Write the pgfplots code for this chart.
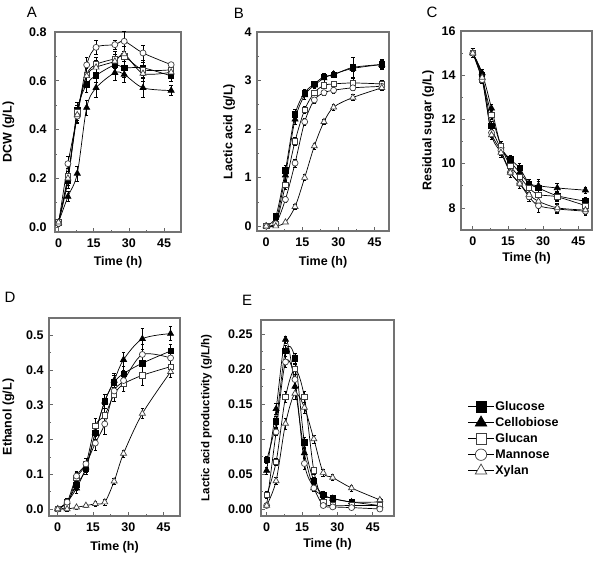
\documentclass[border=0pt]{standalone}
\usepackage{fontspec}
\setmainfont{Liberation Sans}
\usepackage{pgfplots}
\usepackage{pgfplotstable}
\pgfplotsset{compat=1.18}

% columns: t, glucose, cellobiose, glucan, mannose, xylan (value + error)
\pgfplotstableread{
t  g     ge    c     ce    gl    gle   m     me    x     xe
0  0.02  0.01  0.02  0.01  0.02  0.01  0.015 0.01  0.02  0.01
4  0.19  0.03  0.125 0.02  0.21  0.03  0.26  0.03  0.20  0.03
8  0.48  0.03  0.22  0.03  0.47  0.03  0.455 0.03  0.46  0.03
12 0.585 0.03  0.49  0.03  0.625 0.03  0.665 0.03  0.62  0.03
16 0.622 0.03  0.571 0.04  0.667 0.03  0.737 0.03  0.655 0.03
24 0.665 0.03  0.633 0.03  0.69  0.03  0.748 0.02  0.68  0.03
28 0.653 0.04  0.626 0.03  0.70  0.04  0.762 0.04  0.71  0.03
36 0.653 0.03  0.571 0.04  0.645 0.03  0.714 0.03  0.63  0.03
48 0.62  0.02  0.56  0.02  0.645 0.02  0.666 0.01  0.635 0.02
}\dcw

\pgfplotstableread{
t  g     ge    c     ce    gl    gle   m     me    x     xe
0  0     0.02  0     0.02  0     0.02  0     0.02  0     0.02
4  0.2   0.05  0.1   0.05  0.05  0.03  0.05  0.03  0.0   0.02
8  1.15  0.1   1.05  0.1   0.85  0.08  0.55  0.06  0.08  0.03
12 2.3   0.1   2.2   0.1   1.75  0.08  1.3   0.08  0.4   0.05
16 2.75  0.08  2.7   0.08  2.4   0.08  2.15  0.08  1.0   0.06
20 2.93  0.06  2.9   0.06  2.75  0.06  2.6   0.06  1.65  0.06
24 3.08  0.06  3.05  0.08  2.9   0.06  2.75  0.06  2.15  0.06
28 3.12  0.06  3.13  0.06  2.93  0.06  2.8   0.06  2.45  0.06
36 3.27  0.2   3.25  0.06  2.95  0.1   2.85  0.06  2.65  0.06
48 3.33  0.1   3.33  0.08  2.93  0.08  2.88  0.08  2.85  0.06
}\lactic

\pgfplotstableread{
t  g     ge    c     ce    gl    gle   m     me    x     xe
0  15.0  0.2   15.0  0.2   15.0  0.2   15.0  0.2   15.0  0.2
4  14.0  0.15  14.1  0.15  13.8  0.15  13.8  0.15  13.9  0.15
8  11.7  0.2   12.5  0.2   12.2  0.2   11.4  0.2   11.3  0.2
12 10.7  0.2   10.8  0.2   10.8  0.2   10.6  0.2   10.5  0.2
16 10.2  0.2   10.1  0.2   9.9   0.2   9.6   0.2   9.6   0.2
20 9.8   0.2   9.6   0.2   9.4   0.2   9.1   0.2   9.1   0.2
24 9.1   0.2   9.1   0.2   8.9   0.2   8.5   0.2   8.6   0.2
28 8.9   0.3   9.0   0.3   8.6   0.3   8.1   0.3   8.3   0.3
36 8.55  0.2   8.9   0.2   8.5   0.2   7.95  0.2   8.0   0.2
48 8.3   0.2   8.8   0.15  8.1   0.2   7.85  0.2   7.9   0.2
}\sugar

\pgfplotstableread{
t  g     ge    c     ce    gl    gle   m     me    x     xe
0  0     0.005 0     0.005 0     0.005 0     0.005 0     0.005
4  0.02  0.01  0.02  0.01  0.01  0.01  0.02  0.01  0.0   0.005
8  0.07  0.015 0.06  0.015 0.09  0.015 0.095 0.015 0.005 0.005
12 0.115 0.015 0.12  0.015 0.13  0.015 0.13  0.015 0.01  0.005
16 0.22  0.02  0.22  0.02  0.24  0.02  0.19  0.02  0.015 0.008
20 0.31  0.02  0.31  0.02  0.27  0.02  0.245 0.03  0.02  0.008
24 0.365 0.02  0.37  0.02  0.33  0.02  0.34  0.03  0.08  0.01
28 0.39  0.02  0.43  0.02  0.36  0.02  0.37  0.03  0.16  0.01
36 0.42  0.03  0.49  0.03  0.385 0.03  0.445 0.03  0.275 0.015
48 0.455 0.02  0.505 0.02  0.41  0.02  0.435 0.02  0.395 0.015
}\ethanol

\pgfplotstableread{
t  g     ge    c     ce    gl    gle   m     me    x     xe
0  0.07  0.005 0.055 0.005 0.02  0.005 0.005 0.003 0.005 0.003
4  0.125 0.008 0.143 0.008 0.067 0.005 0.11  0.005 0.04  0.005
8  0.226 0.008 0.242 0.005 0.16  0.008 0.21  0.008 0.122 0.008
12 0.215 0.008 0.175 0.008 0.2   0.008 0.185 0.008 0.165 0.008
16 0.095 0.008 0.08  0.008 0.16  0.008 0.065 0.008 0.145 0.008
20 0.04  0.005 0.03  0.005 0.055 0.005 0.03  0.005 0.1   0.006
24 0.02  0.005 0.02  0.005 0.01  0.004 0.005 0.003 0.052 0.005
28 0.015 0.004 0.015 0.004 0.005 0.003 0.003 0.002 0.045 0.004
36 0.01  0.003 0.01  0.003 0.005 0.003 0.002 0.002 0.03  0.004
48 0.01  0.003 0.005 0.003 0.005 0.003 0.0   0.002 0.013 0.003
}\prod

\pgfplotsset{
  panel/.style={
    scale only axis,
    axis line style={black!55, line width=1.2pt},
    tick style={black!60, line width=0.7pt},
    tick align=inside,
    major tick length=4pt, minor tick length=2pt,
    xtick={0,15,30,45}, minor x tick num=1,
    minor y tick num=1,
    xtick pos=bottom, ytick pos=left,
    /pgf/number format/assume math mode=true,
    tick label style={font=\fontsize{12.5}{12.5}\selectfont\bfseries},
    xticklabel style={yshift=-3pt},
    yticklabel style={xshift=-2pt},
    label style={font=\fontsize{12.5}{14}\selectfont\bfseries},
    xlabel={Time (h)},
    clip=false,
  },
  ser/.style={black, line width=0.7pt, smooth,
    error bars/y dir=both, error bars/y explicit,
    error bars/error bar style={black, line width=0.5pt},
    error bars/error mark options={rotate=90, black, mark size=1.8pt, line width=0.5pt}},
  glc/.style={ser, mark=square*, mark size=2.7pt, mark options={fill=black}},
  cel/.style={ser, mark=triangle*, mark size=3.5pt, mark options={fill=black}},
  gln/.style={ser, mark=square*, mark size=2.7pt, mark options={fill=white, draw=black!75}},
  man/.style={ser, mark=*, mark size=3pt, mark options={fill=white, draw=black!75}},
  xyl/.style={ser, mark=triangle*, mark size=3.5pt, mark options={fill=white, draw=black!75}},
}

\newcommand{\fiveseries}[1]{%
  \addplot[glc] table[x=t, y=g,  y error=ge]  {#1};
  \addplot[cel] table[x=t, y=c,  y error=ce]  {#1};
  \addplot[gln] table[x=t, y=gl, y error=gle] {#1};
  \addplot[man] table[x=t, y=m,  y error=me]  {#1};
  \addplot[xyl] table[x=t, y=x,  y error=xe]  {#1};
}

\begin{document}
\begin{tikzpicture}
\path[use as bounding box] (0,0) rectangle (600pt,-561pt);

% A
\begin{axis}[panel, at={(55pt,-32pt)}, anchor=north west,
  width=126pt, height=200pt,
  xmin=-1.5, xmax=52.2, ymin=-0.02, ymax=0.8,
  ytick={0,0.2,0.4,0.6,0.8},
  yticklabel style={/pgf/number format/fixed, /pgf/number format/fixed zerofill, /pgf/number format/precision=1, xshift=-3pt},
  ylabel={DCW (g/L)},
  ylabel style={at={(axis description cs:-0.37,0.5)}, anchor=center},
  xlabel style={at={(axis description cs:0.5,-0.15)}, anchor=center}]
\fiveseries{\dcw}
\end{axis}

% B
\begin{axis}[panel, at={(257pt,-32pt)}, anchor=north west,
  width=132pt, height=199pt,
  xmin=-3.8, xmax=51, ymin=-0.1, ymax=4,
  ytick={0,1,2,3,4},
  ylabel={Lactic acid (g/L)},
  ylabel style={at={(axis description cs:-0.21,0.5)}, anchor=center},
  xlabel style={at={(axis description cs:0.5,-0.156)}, anchor=center}]
\fiveseries{\lactic}
\end{axis}

% C
\begin{axis}[panel, at={(461pt,-31pt)}, anchor=north west,
  width=131pt, height=199pt,
  xmin=-5, xmax=50.8, ymin=7, ymax=16,
  ytick={8,10,12,14,16},
  ylabel={Residual sugar (g/L)},
  ylabel style={at={(axis description cs:-0.25,0.5)}, anchor=center},
  xlabel style={at={(axis description cs:0.5,-0.14)}, anchor=center}]
\fiveseries{\sugar}
\end{axis}

% D
\begin{axis}[panel, at={(49pt,-318pt)}, anchor=north west,
  width=131pt, height=198pt,
  xmin=-3.7, xmax=52, ymin=-0.02, ymax=0.55,
  ytick={0,0.1,0.2,0.3,0.4,0.5},
  yticklabel style={/pgf/number format/fixed, /pgf/number format/fixed zerofill, /pgf/number format/precision=1},
  ylabel={Ethanol (g/L)},
  ylabel style={at={(axis description cs:-0.31,0.5)}, anchor=center},
  xlabel style={at={(axis description cs:0.5,-0.157)}, anchor=center}]
\fiveseries{\ethanol}
\end{axis}

% E
\begin{axis}[panel, at={(261pt,-320pt)}, anchor=north west,
  width=133pt, height=196pt,
  xmin=-2.4, xmax=54, ymin=-0.01, ymax=0.27,
  ytick={0,0.05,0.1,0.15,0.2,0.25},
  yticklabel style={/pgf/number format/fixed, /pgf/number format/fixed zerofill, /pgf/number format/precision=2, xshift=-3pt},
  ylabel={Lactic acid productivity (g/L/h)},
  ylabel style={at={(axis description cs:-0.41,0.5)}, anchor=center, font=\fontsize{11.5}{13}\selectfont\bfseries},
  xlabel style={at={(axis description cs:0.5,-0.143)}, anchor=center},
  legend entries={Glucose, Cellobiose, Glucan, Mannose, Xylan},
  legend style={draw=none, fill=none, at={(axis description cs:1.53,0.607)}, anchor=north west,
    font=\fontsize{12.5}{13}\selectfont\bfseries, row sep=1pt,
    nodes={text height=10pt, text depth=3pt, inner sep=1pt}},
  legend cell align=left,
  legend image code/.code={\draw[/tikz/every mark/.append style={scale=1.9}, mark repeat=2, mark phase=2]
    plot coordinates {(0pt,0pt) (13pt,0pt) (26pt,0pt)};}]
\fiveseries{\prod}
\end{axis}

\node[font=\fontsize{15}{15}\selectfont] at (32pt,-12.5pt) {A};
\node[font=\fontsize{15}{15}\selectfont] at (239pt,-13pt) {B};
\node[font=\fontsize{15}{15}\selectfont] at (432pt,-12pt) {C};
\node[font=\fontsize{15}{15}\selectfont] at (10pt,-297pt) {D};
\node[font=\fontsize{15}{15}\selectfont] at (247pt,-300pt) {E};
\end{tikzpicture}
\end{document}
